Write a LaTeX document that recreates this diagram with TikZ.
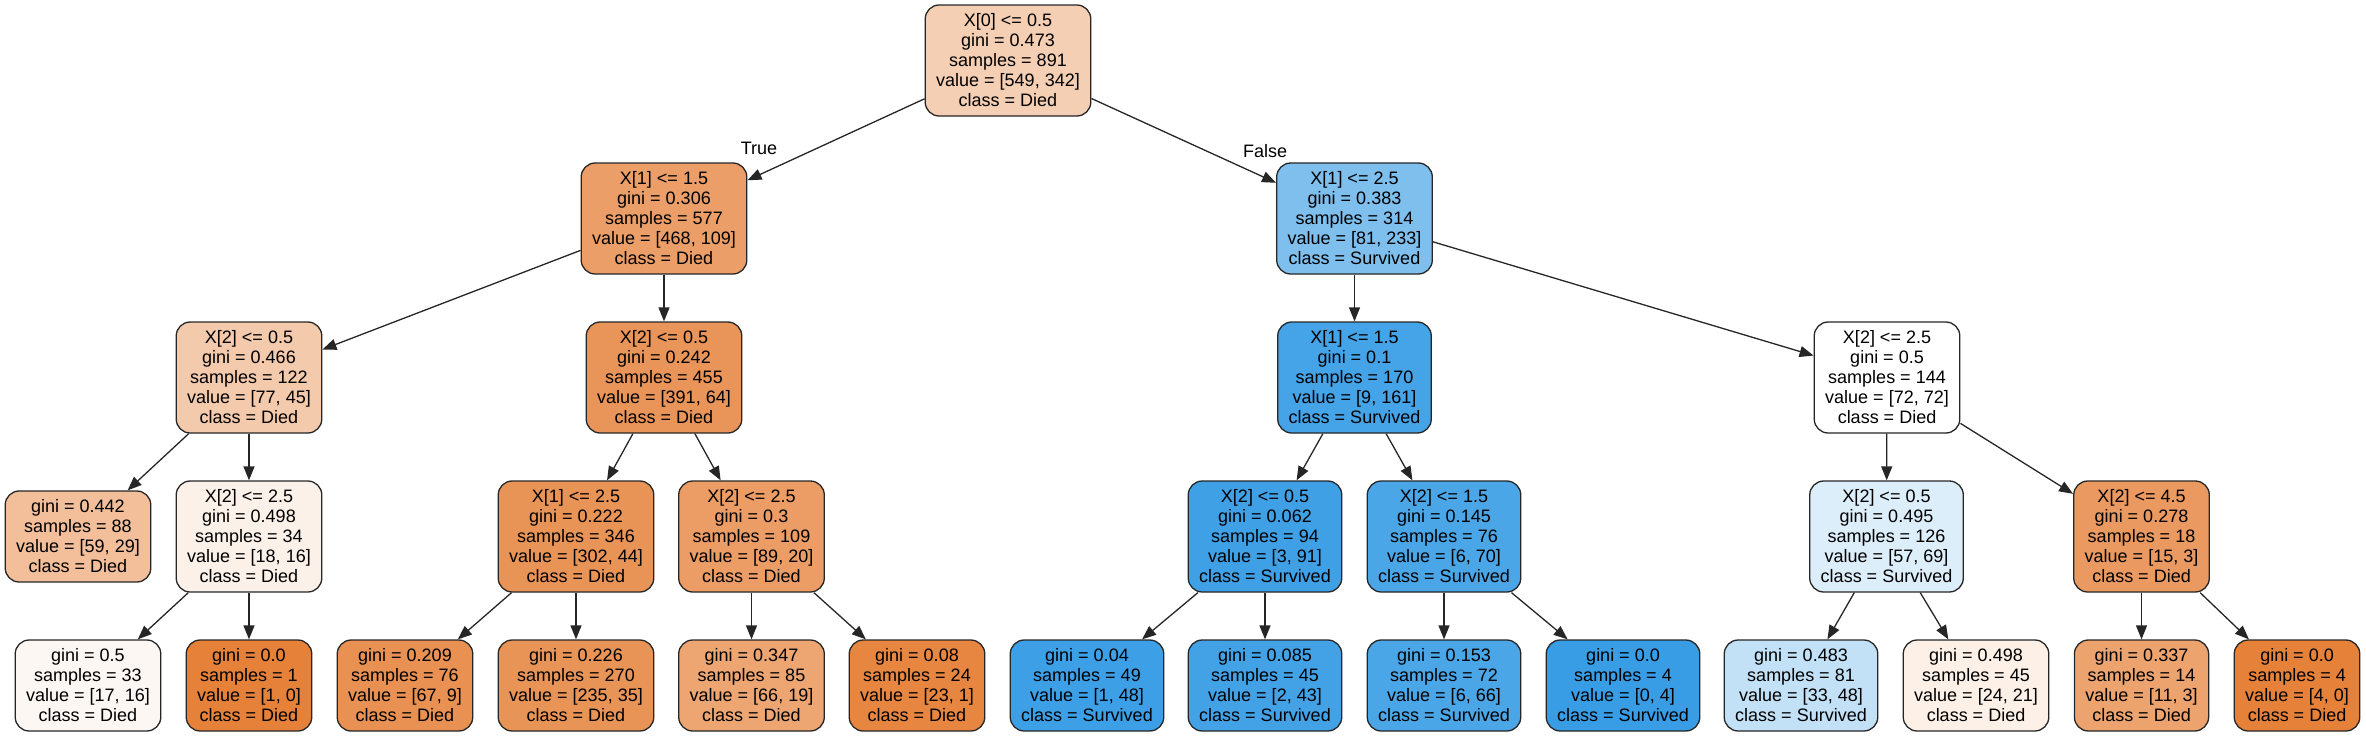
\documentclass[tikz,border=0pt]{standalone}
\usepackage{fontspec}
\setmainfont{Liberation Sans}
\usetikzlibrary{arrows.meta}
\definecolor{died}{RGB}{229,129,57}
\definecolor{surv}{RGB}{57,157,229}
\begin{document}
\begin{tikzpicture}[x=1pt,y=-1pt,
  box/.style={draw=black!85, line width=1.3pt, rounded corners=14pt, align=center,
    inner xsep=11pt, inner ysep=0pt, font=\fontsize{18}{20}\selectfont},
  split/.style={box, minimum height=111pt},
  leaf/.style={box, minimum height=91pt},
  edge/.style={draw=black!85, line width=1.3pt, -{Triangle[length=14pt,width=11pt]}},
  lbl/.style={font=\fontsize{18}{20}\selectfont, inner sep=0pt}]
\useasboundingbox (0,0) rectangle (2366,736);
% level 0
\node[split, fill=died!38!white] (root) at (1008,60.5) {X[0] <= 0.5\\gini = 0.473\\samples = 891\\value = [549, 342]\\class = Died};
% level 1
\node[split, fill=died!77!white] (A) at (664,218.5) {X[1] <= 1.5\\gini = 0.306\\samples = 577\\value = [468, 109]\\class = Died};
\node[split, fill=surv!65!white] (B) at (1354.5,218.5) {X[1] <= 2.5\\gini = 0.383\\samples = 314\\value = [81, 233]\\class = Survived};
% level 2
\node[split, fill=died!42!white] (C) at (249,377.5) {X[2] <= 0.5\\gini = 0.466\\samples = 122\\value = [77, 45]\\class = Died};
\node[split, fill=died!84!white] (D) at (664,377.5) {X[2] <= 0.5\\gini = 0.242\\samples = 455\\value = [391, 64]\\class = Died};
\node[split, fill=surv!94!white] (E) at (1354.5,377.5) {X[1] <= 1.5\\gini = 0.1\\samples = 170\\value = [9, 161]\\class = Survived};
\node[split, fill=white] (F) at (1887,377.5) {X[2] <= 2.5\\gini = 0.5\\samples = 144\\value = [72, 72]\\class = Died};
% level 3
\node[leaf, fill=died!51!white] (G) at (78,536.5) {gini = 0.442\\samples = 88\\value = [59, 29]\\class = Died};
\node[split, fill=died!11!white] (H) at (249,536.5) {X[2] <= 2.5\\gini = 0.498\\samples = 34\\value = [18, 16]\\class = Died};
\node[split, fill=died!85!white] (I) at (576,536.5) {X[1] <= 2.5\\gini = 0.222\\samples = 346\\value = [302, 44]\\class = Died};
\node[split, fill=died!78!white] (J) at (751.5,536.5) {X[2] <= 2.5\\gini = 0.3\\samples = 109\\value = [89, 20]\\class = Died};
\node[split, fill=surv!97!white] (K) at (1265,536.5) {X[2] <= 0.5\\gini = 0.062\\samples = 94\\value = [3, 91]\\class = Survived};
\node[split, fill=surv!91!white] (L) at (1444,536.5) {X[2] <= 1.5\\gini = 0.145\\samples = 76\\value = [6, 70]\\class = Survived};
\node[split, fill=surv!17!white] (M) at (1886.5,536.5) {X[2] <= 0.5\\gini = 0.495\\samples = 126\\value = [57, 69]\\class = Survived};
\node[split, fill=died!80!white] (N) at (2141.5,536.5) {X[2] <= 4.5\\gini = 0.278\\samples = 18\\value = [15, 3]\\class = Died};
% level 4
\node[leaf, fill=died!6!white] (O) at (88,685.5) {gini = 0.5\\samples = 33\\value = [17, 16]\\class = Died};
\node[leaf, fill=died] (P) at (249,685.5) {gini = 0.0\\samples = 1\\value = [1, 0]\\class = Died};
\node[leaf, fill=died!87!white] (Q) at (405,685.5) {gini = 0.209\\samples = 76\\value = [67, 9]\\class = Died};
\node[leaf, fill=died!85!white] (R) at (576,685.5) {gini = 0.226\\samples = 270\\value = [235, 35]\\class = Died};
\node[leaf, fill=died!71!white] (S) at (751.5,685.5) {gini = 0.347\\samples = 85\\value = [66, 19]\\class = Died};
\node[leaf, fill=died!96!white] (T) at (917,685.5) {gini = 0.08\\samples = 24\\value = [23, 1]\\class = Died};
\node[leaf, fill=surv!98!white] (U) at (1087,685.5) {gini = 0.04\\samples = 49\\value = [1, 48]\\class = Survived};
\node[leaf, fill=surv!95!white] (V) at (1265,685.5) {gini = 0.085\\samples = 45\\value = [2, 43]\\class = Survived};
\node[leaf, fill=surv!91!white] (W) at (1444,685.5) {gini = 0.153\\samples = 72\\value = [6, 66]\\class = Survived};
\node[leaf, fill=surv] (X) at (1623,685.5) {gini = 0.0\\samples = 4\\value = [0, 4]\\class = Survived};
\node[leaf, fill=surv!31!white] (Y) at (1801,685.5) {gini = 0.483\\samples = 81\\value = [33, 48]\\class = Survived};
\node[leaf, fill=died!12!white] (Z) at (1976,685.5) {gini = 0.498\\samples = 45\\value = [24, 21]\\class = Died};
\node[leaf, fill=died!73!white] (AA) at (2141.5,685.5) {gini = 0.337\\samples = 14\\value = [11, 3]\\class = Died};
\node[leaf, fill=died] (AB) at (2297,685.5) {gini = 0.0\\samples = 4\\value = [4, 0]\\class = Died};
% edge labels
\node[lbl] (tl) at (759,148) {True};
\node[lbl] (fl) at (1265,151) {False};
% edges
\draw[edge] (root) -- (A);
\draw[edge] (root) -- (B);
\draw[edge] (A) -- (C);
\draw[edge] (A) -- (D);
\draw[edge] (B) -- (E);
\draw[edge] (B) -- (F);
\draw[edge] (C) -- (G);
\draw[edge] (C) -- (H);
\draw[edge] (D) -- (I);
\draw[edge] (D) -- (J);
\draw[edge] (E) -- (K);
\draw[edge] (E) -- (L);
\draw[edge] (F) -- (M);
\draw[edge] (F) -- (N);
\draw[edge] (H) -- (O);
\draw[edge] (H) -- (P);
\draw[edge] (I) -- (Q);
\draw[edge] (I) -- (R);
\draw[edge] (J) -- (S);
\draw[edge] (J) -- (T);
\draw[edge] (K) -- (U);
\draw[edge] (K) -- (V);
\draw[edge] (L) -- (W);
\draw[edge] (L) -- (X);
\draw[edge] (M) -- (Y);
\draw[edge] (M) -- (Z);
\draw[edge] (N) -- (AA);
\draw[edge] (N) -- (AB);
\end{tikzpicture}
\end{document}
